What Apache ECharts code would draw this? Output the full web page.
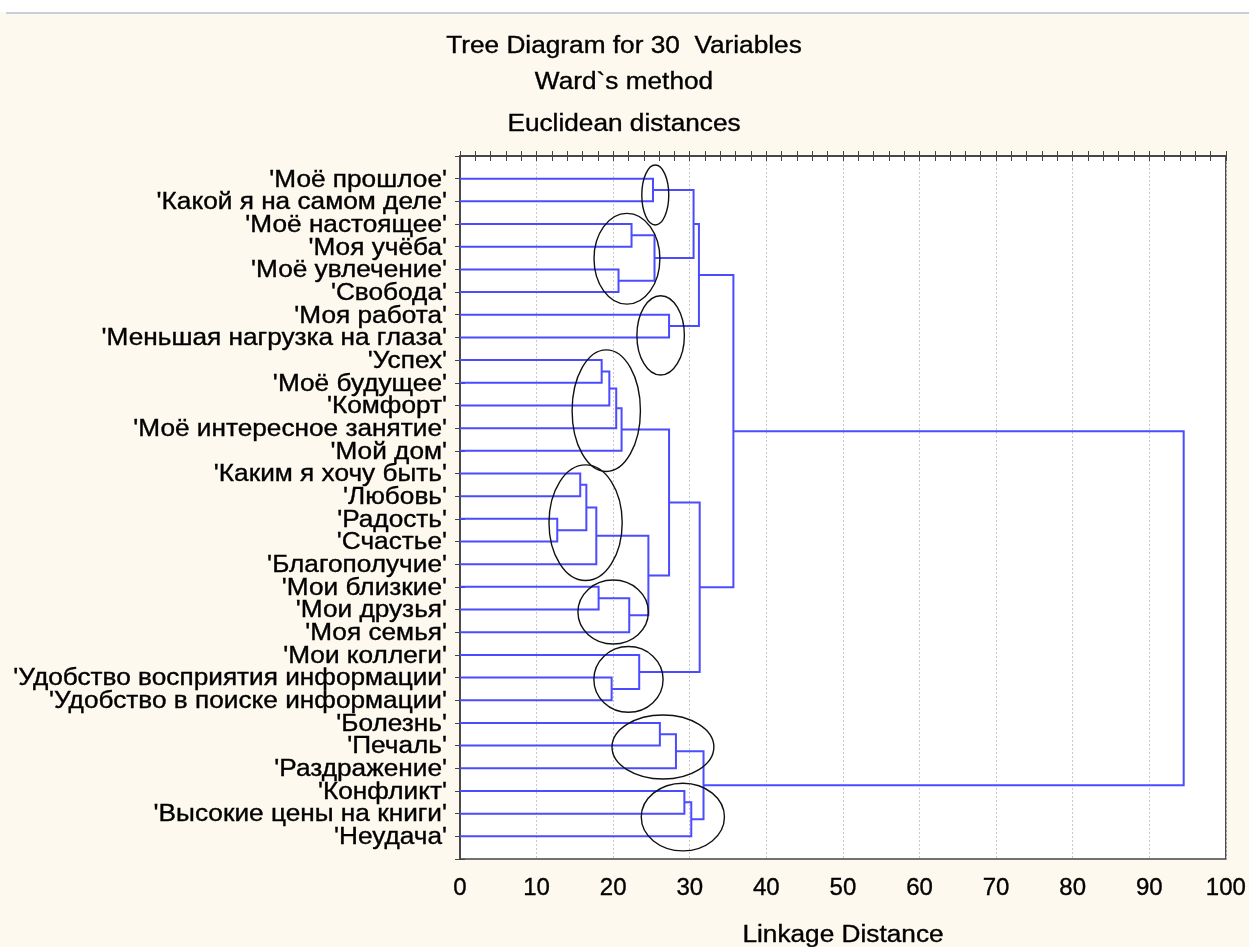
<!DOCTYPE html>
<html>
<head>
<meta charset="utf-8">
<script src="https://cdn.jsdelivr.net/npm/echarts@6/dist/echarts.min.js"></script>
<style>
html,body{margin:0;padding:0;background:#FDF9EE;}
#chart{width:1249px;height:947px;}
</style>
</head>
<body>
<div id="chart"></div>
<script>
// Leaf labels (top to bottom)
const labels = [
  "Моё прошлое", "Какой я на самом деле", "Моё настоящее", "Моя учёба",
  "Моё увлечение", "Свобода", "Моя работа", "Меньшая нагрузка на глаза",
  "Успех", "Моё будущее", "Комфорт", "Моё интересное занятие", "Мой дом",
  "Каким я хочу быть", "Любовь", "Радость", "Счастье", "Благополучие",
  "Мои близкие", "Мои друзья", "Моя семья", "Мои коллеги",
  "Удобство восприятия информации", "Удобство в поиске информации",
  "Болезнь", "Печаль", "Раздражение", "Конфликт", "Высокие цены на книги", "Неудача"
];

// Merges: [nodeA, nodeB, linkage distance]; leaves are 0..29, merged nodes numbered from 30
const merges = [
  [0, 1, 25.2], [2, 3, 22.4], [4, 5, 20.7], [31, 32, 25.4], [30, 33, 30.5],
  [6, 7, 27.3], [34, 35, 31.2], [8, 9, 18.5], [37, 10, 19.5], [38, 11, 20.4],
  [39, 12, 21.1], [13, 14, 15.7], [15, 16, 12.7], [41, 42, 16.5], [43, 17, 17.8],
  [18, 19, 18.1], [45, 20, 22.1], [44, 46, 24.6], [40, 47, 27.3], [22, 23, 19.8],
  [21, 49, 23.4], [48, 50, 31.3], [36, 51, 35.7], [24, 25, 26.1], [53, 26, 28.2],
  [27, 28, 29.3], [55, 29, 30.2], [54, 56, 31.8], [52, 57, 94.5]
];

// Hand-drawn ellipse annotations: [centre distance, centre row, half-width (distance), half-height (rows)]
const ellipses = [
  [25.5, 1.72, 1.76, 1.32], [21.8, 4.53, 4.3, 2.0], [26.2, 7.91, 3.1, 1.75],
  [19.1, 11.23, 4.46, 2.68], [16.4, 16.17, 4.78, 2.55], [20.0, 20.11, 4.6, 1.41],
  [22.0, 23.08, 4.52, 1.45], [26.5, 26.06, 6.65, 1.41], [29.1, 29.15, 5.43, 1.49]
];

const xTicks = [0, 10, 20, 30, 40, 50, 60, 70, 80, 90, 100];
const titleLines = ['Tree Diagram for 30  Variables', 'Ward`s method', 'Euclidean distances'];
const axisTitle = 'Linkage Distance';

// Build segments from merges
const pos = {}, hgt = {};
labels.forEach((l, i) => { pos[i] = i + 1; hgt[i] = 0; });
const links = [];
merges.forEach((m, k) => {
  const id = labels.length + k;
  const [a, b, h] = m;
  links.push([h, pos[a], pos[b], hgt[a], hgt[b]]);
  pos[id] = (pos[a] + pos[b]) / 2;
  hgt[id] = h;
});
const leafData = labels.map((l, i) => [0, i + 1]);

const FONT = "'Liberation Sans', Arial, sans-serif";
const SX = 1.14; // horizontal stretch of the reference lettering
function stretchedText(text, x, y, align) {
  return {type: 'text', x: x, y: y, scaleX: SX, silent: true,
    style: {text: text, x: 0, y: 0, align: align, verticalAlign: 'middle',
      font: '23px ' + FONT, fill: '#000', stroke: '#000', lineWidth: 0.35}};
}

const chart = echarts.init(document.getElementById('chart'));
chart.setOption({
  backgroundColor: '#FDF9EE',
  animation: false,
  graphic: [
    {type: 'rect', shape: {x: 0, y: 0, width: 1249, height: 12}, style: {fill: '#ffffff'}, silent: true},
    {type: 'line', shape: {x1: 6, y1: 13, x2: 1249, y2: 13}, style: {stroke: '#C9CEDF', lineWidth: 2}, silent: true},
    stretchedText(titleLines[0], 624, 47, 'center'),
    stretchedText(titleLines[1], 624, 83, 'center'),
    stretchedText(titleLines[2], 624, 125, 'center'),
    stretchedText(axisTitle, 843, 936, 'center')
  ],
  grid: {left: 460, top: 156, width: 767, height: 703, show: true, backgroundColor: '#ffffff', borderColor: '#444', borderWidth: 1.5},
  xAxis: [
    {
      type: 'value', min: 0, max: 100, interval: 10, position: 'bottom',
      axisLine: {show: true, lineStyle: {color: '#444', width: 1.5}},
      axisTick: {show: true, inside: true, length: 5, lineStyle: {color: '#444'}},
      minorTick: {show: true, splitNumber: 5, length: 5, lineStyle: {color: '#444'}},
      axisLabel: {fontFamily: FONT, fontSize: 24, color: '#000', margin: 17,
        textBorderColor: '#000', textBorderWidth: 0.35,
        formatter: v => xTicks.indexOf(v) >= 0 ? String(v) : ''},
      splitLine: {show: true, lineStyle: {color: '#C8C8C8', type: [2, 2], width: 1}}
    },
    {
      type: 'value', min: 0, max: 100, interval: 10, position: 'top',
      axisLine: {show: true, lineStyle: {color: '#444', width: 1.5}},
      axisTick: {show: true, inside: true, length: 5, lineStyle: {color: '#444'}},
      minorTick: {show: true, splitNumber: 5, length: 5, lineStyle: {color: '#444'}},
      axisLabel: {show: false}, splitLine: {show: false}
    }
  ],
  yAxis: [
    {
      type: 'value', min: 0, max: 31, interval: 1, inverse: true, position: 'left',
      axisLine: {show: true, lineStyle: {color: '#444', width: 1.5}},
      axisTick: {show: true, inside: true, length: 5, lineStyle: {color: '#444'}},
      axisLabel: {show: false},
      splitLine: {show: false}
    },
    {
      type: 'value', min: 0, max: 31, interval: 1, inverse: true, position: 'right',
      axisLine: {show: true, lineStyle: {color: '#444', width: 1.5}},
      axisTick: {show: true, inside: true, length: 5, lineStyle: {color: '#444'}},
      axisLabel: {show: false}, splitLine: {show: false}
    }
  ],
  series: [
    {
      type: 'custom', xAxisIndex: 0, yAxisIndex: 0, data: leafData, z: 2, clip: false,
      encode: {x: 0, y: 1},
      renderItem: function (params, api) {
        const p = api.coord([api.value(0), api.value(1)]);
        return {type: 'text', x: p[0] - 13, y: p[1] + 1.5, scaleX: SX,
          style: {text: "'" + labels[params.dataIndex] + "'", x: 0, y: 0, align: 'right',
            verticalAlign: 'middle', font: '23px ' + FONT, fill: '#000', stroke: '#000', lineWidth: 0.35}};
      }
    },
    {
      type: 'custom', xAxisIndex: 0, yAxisIndex: 0, data: links, z: 3,
      encode: {x: [0, 3, 4], y: [1, 2]},
      renderItem: function (params, api) {
        const h = api.value(0), ya = api.value(1), yb = api.value(2), ha = api.value(3), hb = api.value(4);
        const p1 = api.coord([ha, ya]), p2 = api.coord([h, ya]), p3 = api.coord([h, yb]), p4 = api.coord([hb, yb]);
        return {type: 'polyline', shape: {points: [p1, p2, p3, p4]},
          style: {stroke: '#4B4BFF', lineWidth: 2, fill: null}};
      }
    },
    {
      type: 'custom', xAxisIndex: 0, yAxisIndex: 0, data: ellipses, z: 4,
      encode: {x: 0, y: 1},
      renderItem: function (params, api) {
        const c = api.coord([api.value(0), api.value(1)]);
        const s = api.size([api.value(2), api.value(3)]);
        return {type: 'ellipse', shape: {cx: c[0], cy: c[1], rx: s[0], ry: s[1]},
          style: {stroke: '#111', lineWidth: 1.4, fill: null}};
      }
    }
  ]
});
</script>
</body>
</html>
